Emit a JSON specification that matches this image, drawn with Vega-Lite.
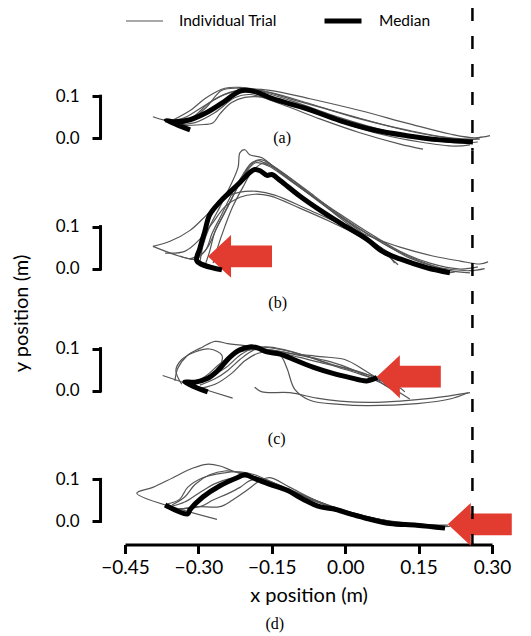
{
  "$schema": "https://vega.github.io/schema/vega-lite/v6.json",
  "padding": {"left": 11, "top": 0, "right": 5, "bottom": 5},
  "spacing": 0,
  "bounds": "flush",
  "config": {
    "view": {"stroke": null},
    "font": "Lato",
    "legend": {"orient": "none", "legendX": 0, "legendY": -8, "direction": "horizontal", "symbolType": "stroke", "symbolSize": 1369, "labelFontSize": 15.5, "labelFont": "Lato", "labelColor": "black", "labelOffset": 15, "columnPadding": 37, "padding": 0}
  },
  "datasets": {
    "traj": [
      {"panel":"a","series":"Individual Trial","trial":"a1","x":-0.393,"y":0.051},{"panel":"a","series":"Individual Trial","trial":"a1","x":-0.328,"y":0.037},{"panel":"a","series":"Individual Trial","trial":"a1","x":-0.287,"y":0.070},{"panel":"a","series":"Individual Trial","trial":"a1","x":-0.252,"y":0.114},{"panel":"a","series":"Individual Trial","trial":"a1","x":-0.219,"y":0.119},{"panel":"a","series":"Individual Trial","trial":"a1","x":-0.174,"y":0.114},{"panel":"a","series":"Individual Trial","trial":"a1","x":-0.093,"y":0.087},{"panel":"a","series":"Individual Trial","trial":"a1","x":0.010,"y":0.054},{"panel":"a","series":"Individual Trial","trial":"a1","x":0.112,"y":0.022},{"panel":"a","series":"Individual Trial","trial":"a1","x":0.194,"y":0.003},{"panel":"a","series":"Individual Trial","trial":"a1","x":0.255,"y":-0.004},{"panel":"a","series":"Individual Trial","trial":"a1","x":0.279,"y":0.003},
      {"panel":"a","series":"Individual Trial","trial":"a2","x":-0.362,"y":0.037},{"panel":"a","series":"Individual Trial","trial":"a2","x":-0.317,"y":0.046},{"panel":"a","series":"Individual Trial","trial":"a2","x":-0.277,"y":0.085},{"panel":"a","series":"Individual Trial","trial":"a2","x":-0.236,"y":0.109},{"panel":"a","series":"Individual Trial","trial":"a2","x":-0.195,"y":0.116},{"panel":"a","series":"Individual Trial","trial":"a2","x":-0.113,"y":0.090},{"panel":"a","series":"Individual Trial","trial":"a2","x":-0.011,"y":0.049},{"panel":"a","series":"Individual Trial","trial":"a2","x":0.091,"y":0.015},{"panel":"a","series":"Individual Trial","trial":"a2","x":0.173,"y":-0.004},{"panel":"a","series":"Individual Trial","trial":"a2","x":0.235,"y":-0.011},{"panel":"a","series":"Individual Trial","trial":"a2","x":0.271,"y":-0.009},
      {"panel":"a","series":"Individual Trial","trial":"a3","x":-0.348,"y":0.032},{"panel":"a","series":"Individual Trial","trial":"a3","x":-0.307,"y":0.037},{"panel":"a","series":"Individual Trial","trial":"a3","x":-0.266,"y":0.061},{"panel":"a","series":"Individual Trial","trial":"a3","x":-0.225,"y":0.097},{"panel":"a","series":"Individual Trial","trial":"a3","x":-0.195,"y":0.104},{"panel":"a","series":"Individual Trial","trial":"a3","x":-0.133,"y":0.082},{"panel":"a","series":"Individual Trial","trial":"a3","x":-0.052,"y":0.046},{"panel":"a","series":"Individual Trial","trial":"a3","x":0.030,"y":0.013},{"panel":"a","series":"Individual Trial","trial":"a3","x":0.112,"y":-0.014},{"panel":"a","series":"Individual Trial","trial":"a3","x":0.159,"y":-0.026},
      {"panel":"a","series":"Individual Trial","trial":"a4","x":-0.338,"y":0.030},{"panel":"a","series":"Individual Trial","trial":"a4","x":-0.297,"y":0.032},{"panel":"a","series":"Individual Trial","trial":"a4","x":-0.270,"y":0.037},{"panel":"a","series":"Individual Trial","trial":"a4","x":-0.256,"y":0.058},{"panel":"a","series":"Individual Trial","trial":"a4","x":-0.232,"y":0.085},{"panel":"a","series":"Individual Trial","trial":"a4","x":-0.205,"y":0.097},{"panel":"a","series":"Individual Trial","trial":"a4","x":-0.164,"y":0.097},{"panel":"a","series":"Individual Trial","trial":"a4","x":-0.093,"y":0.073},{"panel":"a","series":"Individual Trial","trial":"a4","x":-0.011,"y":0.039},{"panel":"a","series":"Individual Trial","trial":"a4","x":0.071,"y":0.010},{"panel":"a","series":"Individual Trial","trial":"a4","x":0.153,"y":-0.009},{"panel":"a","series":"Individual Trial","trial":"a4","x":0.224,"y":-0.019},{"panel":"a","series":"Individual Trial","trial":"a4","x":0.255,"y":-0.016},
      {"panel":"a","series":"Individual Trial","trial":"a5","x":-0.354,"y":0.042},{"panel":"a","series":"Individual Trial","trial":"a5","x":-0.317,"y":0.066},{"panel":"a","series":"Individual Trial","trial":"a5","x":-0.287,"y":0.094},{"panel":"a","series":"Individual Trial","trial":"a5","x":-0.266,"y":0.109},{"panel":"a","series":"Individual Trial","trial":"a5","x":-0.246,"y":0.119},{"panel":"a","series":"Individual Trial","trial":"a5","x":-0.215,"y":0.121},{"panel":"a","series":"Individual Trial","trial":"a5","x":-0.154,"y":0.109},{"panel":"a","series":"Individual Trial","trial":"a5","x":-0.072,"y":0.082},{"panel":"a","series":"Individual Trial","trial":"a5","x":0.030,"y":0.046},{"panel":"a","series":"Individual Trial","trial":"a5","x":0.132,"y":0.018},{"panel":"a","series":"Individual Trial","trial":"a5","x":0.214,"y":0.001},{"panel":"a","series":"Individual Trial","trial":"a5","x":0.275,"y":-0.002},
      {"panel":"a","series":"Individual Trial","trial":"a6","x":-0.368,"y":0.039},{"panel":"a","series":"Individual Trial","trial":"a6","x":-0.328,"y":0.049},{"panel":"a","series":"Individual Trial","trial":"a6","x":-0.287,"y":0.078},{"panel":"a","series":"Individual Trial","trial":"a6","x":-0.246,"y":0.104},{"panel":"a","series":"Individual Trial","trial":"a6","x":-0.205,"y":0.116},{"panel":"a","series":"Individual Trial","trial":"a6","x":-0.154,"y":0.114},{"panel":"a","series":"Individual Trial","trial":"a6","x":-0.072,"y":0.094},{"panel":"a","series":"Individual Trial","trial":"a6","x":0.030,"y":0.066},{"panel":"a","series":"Individual Trial","trial":"a6","x":0.132,"y":0.034},{"panel":"a","series":"Individual Trial","trial":"a6","x":0.214,"y":0.010},{"panel":"a","series":"Individual Trial","trial":"a6","x":0.265,"y":0.001},{"panel":"a","series":"Individual Trial","trial":"a6","x":0.296,"y":0.006},
      {"panel":"a","series":"Median","trial":"am","x":-0.317,"y":0.020},{"panel":"a","series":"Median","trial":"am","x":-0.366,"y":0.042},{"panel":"a","series":"Median","trial":"am","x":-0.348,"y":0.039},{"panel":"a","series":"Median","trial":"am","x":-0.317,"y":0.044},{"panel":"a","series":"Median","trial":"am","x":-0.283,"y":0.061},{"panel":"a","series":"Median","trial":"am","x":-0.250,"y":0.085},{"panel":"a","series":"Median","trial":"am","x":-0.230,"y":0.102},{"panel":"a","series":"Median","trial":"am","x":-0.213,"y":0.113},{"panel":"a","series":"Median","trial":"am","x":-0.185,"y":0.111},{"panel":"a","series":"Median","trial":"am","x":-0.148,"y":0.094},{"panel":"a","series":"Median","trial":"am","x":-0.078,"y":0.070},{"panel":"a","series":"Median","trial":"am","x":-0.011,"y":0.042},{"panel":"a","series":"Median","trial":"am","x":0.057,"y":0.020},{"panel":"a","series":"Median","trial":"am","x":0.126,"y":0.006},{"panel":"a","series":"Median","trial":"am","x":0.194,"y":-0.004},{"panel":"a","series":"Median","trial":"am","x":0.261,"y":-0.009},

      {"panel":"b","series":"Individual Trial","trial":"b1","x":-0.393,"y":0.053},{"panel":"b","series":"Individual Trial","trial":"b1","x":-0.358,"y":0.065},{"panel":"b","series":"Individual Trial","trial":"b1","x":-0.317,"y":0.091},{"panel":"b","series":"Individual Trial","trial":"b1","x":-0.283,"y":0.128},{"panel":"b","series":"Individual Trial","trial":"b1","x":-0.250,"y":0.166},{"panel":"b","series":"Individual Trial","trial":"b1","x":-0.215,"y":0.182},{"panel":"b","series":"Individual Trial","trial":"b1","x":-0.180,"y":0.184},{"panel":"b","series":"Individual Trial","trial":"b1","x":-0.144,"y":0.175},{"panel":"b","series":"Individual Trial","trial":"b1","x":-0.078,"y":0.142},{"panel":"b","series":"Individual Trial","trial":"b1","x":-0.011,"y":0.107},{"panel":"b","series":"Individual Trial","trial":"b1","x":0.050,"y":0.077},{"panel":"b","series":"Individual Trial","trial":"b1","x":0.112,"y":0.051},{"panel":"b","series":"Individual Trial","trial":"b1","x":0.179,"y":0.030},{"panel":"b","series":"Individual Trial","trial":"b1","x":0.235,"y":0.018},{"panel":"b","series":"Individual Trial","trial":"b1","x":0.275,"y":0.011},{"panel":"b","series":"Individual Trial","trial":"b1","x":0.292,"y":0.016},
      {"panel":"b","series":"Individual Trial","trial":"b0","x":-0.393,"y":0.053},{"panel":"b","series":"Individual Trial","trial":"b0","x":-0.340,"y":0.030},{"panel":"b","series":"Individual Trial","trial":"b0","x":-0.300,"y":0.018},{"panel":"b","series":"Individual Trial","trial":"b0","x":-0.262,"y":0.000},
      {"panel":"b","series":"Individual Trial","trial":"b2","x":-0.368,"y":0.037},{"panel":"b","series":"Individual Trial","trial":"b2","x":-0.328,"y":0.041},{"panel":"b","series":"Individual Trial","trial":"b2","x":-0.297,"y":0.070},{"panel":"b","series":"Individual Trial","trial":"b2","x":-0.272,"y":0.107},{"panel":"b","series":"Individual Trial","trial":"b2","x":-0.246,"y":0.147},{"panel":"b","series":"Individual Trial","trial":"b2","x":-0.215,"y":0.170},{"panel":"b","series":"Individual Trial","trial":"b2","x":-0.185,"y":0.177},{"panel":"b","series":"Individual Trial","trial":"b2","x":-0.154,"y":0.173},{"panel":"b","series":"Individual Trial","trial":"b2","x":-0.093,"y":0.144},{"panel":"b","series":"Individual Trial","trial":"b2","x":-0.031,"y":0.112},{"panel":"b","series":"Individual Trial","trial":"b2","x":0.030,"y":0.077},{"panel":"b","series":"Individual Trial","trial":"b2","x":0.081,"y":0.041},{"panel":"b","series":"Individual Trial","trial":"b2","x":0.101,"y":0.013},
      {"panel":"b","series":"Individual Trial","trial":"b3","x":-0.297,"y":0.013},{"panel":"b","series":"Individual Trial","trial":"b3","x":-0.291,"y":0.053},{"panel":"b","series":"Individual Trial","trial":"b3","x":-0.277,"y":0.100},{"panel":"b","series":"Individual Trial","trial":"b3","x":-0.256,"y":0.147},{"panel":"b","series":"Individual Trial","trial":"b3","x":-0.236,"y":0.194},{"panel":"b","series":"Individual Trial","trial":"b3","x":-0.219,"y":0.241},{"panel":"b","series":"Individual Trial","trial":"b3","x":-0.215,"y":0.276},{"panel":"b","series":"Individual Trial","trial":"b3","x":-0.205,"y":0.283},{"panel":"b","series":"Individual Trial","trial":"b3","x":-0.195,"y":0.271},{"panel":"b","series":"Individual Trial","trial":"b3","x":-0.170,"y":0.264},{"panel":"b","series":"Individual Trial","trial":"b3","x":-0.133,"y":0.229},{"panel":"b","series":"Individual Trial","trial":"b3","x":-0.072,"y":0.177},{"panel":"b","series":"Individual Trial","trial":"b3","x":-0.011,"y":0.130},{"panel":"b","series":"Individual Trial","trial":"b3","x":0.050,"y":0.084},{"panel":"b","series":"Individual Trial","trial":"b3","x":0.112,"y":0.041},{"panel":"b","series":"Individual Trial","trial":"b3","x":0.173,"y":0.013},{"panel":"b","series":"Individual Trial","trial":"b3","x":0.235,"y":-0.001},{"panel":"b","series":"Individual Trial","trial":"b3","x":0.271,"y":0.004},
      {"panel":"b","series":"Individual Trial","trial":"b4","x":-0.317,"y":0.023},{"panel":"b","series":"Individual Trial","trial":"b4","x":-0.287,"y":0.041},{"panel":"b","series":"Individual Trial","trial":"b4","x":-0.272,"y":0.084},{"panel":"b","series":"Individual Trial","trial":"b4","x":-0.252,"y":0.130},{"panel":"b","series":"Individual Trial","trial":"b4","x":-0.232,"y":0.177},{"panel":"b","series":"Individual Trial","trial":"b4","x":-0.209,"y":0.224},{"panel":"b","series":"Individual Trial","trial":"b4","x":-0.191,"y":0.252},{"panel":"b","series":"Individual Trial","trial":"b4","x":-0.170,"y":0.259},{"panel":"b","series":"Individual Trial","trial":"b4","x":-0.144,"y":0.241},{"panel":"b","series":"Individual Trial","trial":"b4","x":-0.093,"y":0.194},{"panel":"b","series":"Individual Trial","trial":"b4","x":-0.031,"y":0.140},{"panel":"b","series":"Individual Trial","trial":"b4","x":0.030,"y":0.093},{"panel":"b","series":"Individual Trial","trial":"b4","x":0.091,"y":0.051},{"panel":"b","series":"Individual Trial","trial":"b4","x":0.153,"y":0.018},{"panel":"b","series":"Individual Trial","trial":"b4","x":0.214,"y":-0.005},{"panel":"b","series":"Individual Trial","trial":"b4","x":0.255,"y":-0.010},
      {"panel":"b","series":"Individual Trial","trial":"b5","x":-0.287,"y":0.006},{"panel":"b","series":"Individual Trial","trial":"b5","x":-0.277,"y":0.041},{"panel":"b","series":"Individual Trial","trial":"b5","x":-0.266,"y":0.088},{"panel":"b","series":"Individual Trial","trial":"b5","x":-0.246,"y":0.135},{"panel":"b","series":"Individual Trial","trial":"b5","x":-0.223,"y":0.187},{"panel":"b","series":"Individual Trial","trial":"b5","x":-0.203,"y":0.229},{"panel":"b","series":"Individual Trial","trial":"b5","x":-0.183,"y":0.252},{"panel":"b","series":"Individual Trial","trial":"b5","x":-0.158,"y":0.245},{"panel":"b","series":"Individual Trial","trial":"b5","x":-0.113,"y":0.210},{"panel":"b","series":"Individual Trial","trial":"b5","x":-0.052,"y":0.159},{"panel":"b","series":"Individual Trial","trial":"b5","x":0.010,"y":0.107},{"panel":"b","series":"Individual Trial","trial":"b5","x":0.061,"y":0.060},{"panel":"b","series":"Individual Trial","trial":"b5","x":0.091,"y":0.027},{"panel":"b","series":"Individual Trial","trial":"b5","x":0.108,"y":0.009},
      {"panel":"b","series":"Individual Trial","trial":"b6","x":-0.270,"y":0.013},{"panel":"b","series":"Individual Trial","trial":"b6","x":-0.260,"y":0.053},{"panel":"b","series":"Individual Trial","trial":"b6","x":-0.246,"y":0.100},{"panel":"b","series":"Individual Trial","trial":"b6","x":-0.230,"y":0.147},{"panel":"b","series":"Individual Trial","trial":"b6","x":-0.209,"y":0.194},{"panel":"b","series":"Individual Trial","trial":"b6","x":-0.189,"y":0.233},{"panel":"b","series":"Individual Trial","trial":"b6","x":-0.164,"y":0.252},{"panel":"b","series":"Individual Trial","trial":"b6","x":-0.133,"y":0.233},{"panel":"b","series":"Individual Trial","trial":"b6","x":-0.082,"y":0.187},{"panel":"b","series":"Individual Trial","trial":"b6","x":-0.021,"y":0.130},{"panel":"b","series":"Individual Trial","trial":"b6","x":0.040,"y":0.077},{"panel":"b","series":"Individual Trial","trial":"b6","x":0.101,"y":0.030},{"panel":"b","series":"Individual Trial","trial":"b6","x":0.153,"y":0.004},{"panel":"b","series":"Individual Trial","trial":"b6","x":0.204,"y":-0.010},{"panel":"b","series":"Individual Trial","trial":"b6","x":0.224,"y":-0.008},
      {"panel":"b","series":"Individual Trial","trial":"b7","x":-0.338,"y":0.030},{"panel":"b","series":"Individual Trial","trial":"b7","x":-0.305,"y":0.023},{"panel":"b","series":"Individual Trial","trial":"b7","x":-0.281,"y":0.051},{"panel":"b","series":"Individual Trial","trial":"b7","x":-0.264,"y":0.093},{"panel":"b","series":"Individual Trial","trial":"b7","x":-0.240,"y":0.147},{"panel":"b","series":"Individual Trial","trial":"b7","x":-0.215,"y":0.205},{"panel":"b","series":"Individual Trial","trial":"b7","x":-0.195,"y":0.245},{"panel":"b","series":"Individual Trial","trial":"b7","x":-0.178,"y":0.257},{"panel":"b","series":"Individual Trial","trial":"b7","x":-0.162,"y":0.250},{"panel":"b","series":"Individual Trial","trial":"b7","x":-0.123,"y":0.224},{"panel":"b","series":"Individual Trial","trial":"b7","x":-0.062,"y":0.172},{"panel":"b","series":"Individual Trial","trial":"b7","x":-0.001,"y":0.119},{"panel":"b","series":"Individual Trial","trial":"b7","x":0.071,"y":0.065},{"panel":"b","series":"Individual Trial","trial":"b7","x":0.132,"y":0.025},{"panel":"b","series":"Individual Trial","trial":"b7","x":0.194,"y":0.002},{"panel":"b","series":"Individual Trial","trial":"b7","x":0.255,"y":-0.005},{"panel":"b","series":"Individual Trial","trial":"b7","x":0.285,"y":0.000},
      {"panel":"b","series":"Median","trial":"bm","x":-0.252,"y":-0.003},{"panel":"b","series":"Median","trial":"bm","x":-0.303,"y":0.018},{"panel":"b","series":"Median","trial":"bm","x":-0.297,"y":0.048},{"panel":"b","series":"Median","trial":"bm","x":-0.287,"y":0.088},{"panel":"b","series":"Median","trial":"bm","x":-0.277,"y":0.128},{"panel":"b","series":"Median","trial":"bm","x":-0.256,"y":0.159},{"panel":"b","series":"Median","trial":"bm","x":-0.236,"y":0.182},{"panel":"b","series":"Median","trial":"bm","x":-0.215,"y":0.205},{"panel":"b","series":"Median","trial":"bm","x":-0.195,"y":0.229},{"panel":"b","series":"Median","trial":"bm","x":-0.185,"y":0.236},{"panel":"b","series":"Median","trial":"bm","x":-0.174,"y":0.233},{"panel":"b","series":"Median","trial":"bm","x":-0.160,"y":0.222},{"panel":"b","series":"Median","trial":"bm","x":-0.150,"y":0.224},{"panel":"b","series":"Median","trial":"bm","x":-0.133,"y":0.210},{"panel":"b","series":"Median","trial":"bm","x":-0.093,"y":0.173},{"panel":"b","series":"Median","trial":"bm","x":-0.046,"y":0.135},{"panel":"b","series":"Median","trial":"bm","x":-0.011,"y":0.109},{"panel":"b","series":"Median","trial":"bm","x":0.044,"y":0.070},{"panel":"b","series":"Median","trial":"bm","x":0.076,"y":0.041},{"panel":"b","series":"Median","trial":"bm","x":0.112,"y":0.023},{"panel":"b","series":"Median","trial":"bm","x":0.167,"y":0.002},{"panel":"b","series":"Median","trial":"bm","x":0.214,"y":-0.010},

      {"panel":"c","series":"Individual Trial","trial":"c1","x":-0.348,"y":0.023},{"panel":"c","series":"Individual Trial","trial":"c1","x":-0.342,"y":0.053},{"panel":"c","series":"Individual Trial","trial":"c1","x":-0.322,"y":0.084},{"panel":"c","series":"Individual Trial","trial":"c1","x":-0.291,"y":0.104},{"panel":"c","series":"Individual Trial","trial":"c1","x":-0.266,"y":0.117},{"panel":"c","series":"Individual Trial","trial":"c1","x":-0.240,"y":0.112},{"panel":"c","series":"Individual Trial","trial":"c1","x":-0.205,"y":0.107},{"panel":"c","series":"Individual Trial","trial":"c1","x":-0.164,"y":0.099},{"panel":"c","series":"Individual Trial","trial":"c1","x":-0.113,"y":0.089},{"panel":"c","series":"Individual Trial","trial":"c1","x":-0.052,"y":0.081},{"panel":"c","series":"Individual Trial","trial":"c1","x":-0.001,"y":0.074},{"panel":"c","series":"Individual Trial","trial":"c1","x":0.040,"y":0.048},{"panel":"c","series":"Individual Trial","trial":"c1","x":0.067,"y":0.028},{"panel":"c","series":"Individual Trial","trial":"c1","x":0.101,"y":0.003},{"panel":"c","series":"Individual Trial","trial":"c1","x":0.132,"y":-0.020},
      {"panel":"c","series":"Individual Trial","trial":"c2","x":-0.334,"y":0.015},{"panel":"c","series":"Individual Trial","trial":"c2","x":-0.346,"y":0.048},{"panel":"c","series":"Individual Trial","trial":"c2","x":-0.334,"y":0.074},{"panel":"c","series":"Individual Trial","trial":"c2","x":-0.307,"y":0.092},{"panel":"c","series":"Individual Trial","trial":"c2","x":-0.277,"y":0.099},{"panel":"c","series":"Individual Trial","trial":"c2","x":-0.252,"y":0.084},{"panel":"c","series":"Individual Trial","trial":"c2","x":-0.256,"y":0.058},{"panel":"c","series":"Individual Trial","trial":"c2","x":-0.272,"y":0.038},{"panel":"c","series":"Individual Trial","trial":"c2","x":-0.246,"y":0.053},{"panel":"c","series":"Individual Trial","trial":"c2","x":-0.215,"y":0.084},{"panel":"c","series":"Individual Trial","trial":"c2","x":-0.191,"y":0.099},{"panel":"c","series":"Individual Trial","trial":"c2","x":-0.154,"y":0.097},{"panel":"c","series":"Individual Trial","trial":"c2","x":-0.093,"y":0.084},{"panel":"c","series":"Individual Trial","trial":"c2","x":-0.031,"y":0.069},{"panel":"c","series":"Individual Trial","trial":"c2","x":0.020,"y":0.048},{"panel":"c","series":"Individual Trial","trial":"c2","x":0.061,"y":0.025},{"panel":"c","series":"Individual Trial","trial":"c2","x":0.091,"y":0.008},
      {"panel":"c","series":"Individual Trial","trial":"c3","x":-0.373,"y":0.036},{"panel":"c","series":"Individual Trial","trial":"c3","x":-0.301,"y":0.008},{"panel":"c","series":"Individual Trial","trial":"c3","x":-0.230,"y":-0.018},
      {"panel":"c","series":"Individual Trial","trial":"c4","x":-0.185,"y":0.008},{"panel":"c","series":"Individual Trial","trial":"c4","x":-0.170,"y":-0.003},{"panel":"c","series":"Individual Trial","trial":"c4","x":-0.113,"y":-0.005},{"panel":"c","series":"Individual Trial","trial":"c4","x":-0.058,"y":-0.018},{"panel":"c","series":"Individual Trial","trial":"c4","x":-0.011,"y":-0.025},{"panel":"c","series":"Individual Trial","trial":"c4","x":0.050,"y":-0.028},{"panel":"c","series":"Individual Trial","trial":"c4","x":0.112,"y":-0.025},{"panel":"c","series":"Individual Trial","trial":"c4","x":0.179,"y":-0.018},{"panel":"c","series":"Individual Trial","trial":"c4","x":0.255,"y":-0.005},
      {"panel":"c","series":"Individual Trial","trial":"c5","x":-0.215,"y":0.092},{"panel":"c","series":"Individual Trial","trial":"c5","x":-0.174,"y":0.099},{"panel":"c","series":"Individual Trial","trial":"c5","x":-0.133,"y":0.084},{"panel":"c","series":"Individual Trial","trial":"c5","x":-0.119,"y":0.053},{"panel":"c","series":"Individual Trial","trial":"c5","x":-0.103,"y":0.003},{"panel":"c","series":"Individual Trial","trial":"c5","x":-0.072,"y":-0.023},{"panel":"c","series":"Individual Trial","trial":"c5","x":-0.011,"y":-0.033},{"panel":"c","series":"Individual Trial","trial":"c5","x":0.044,"y":-0.036},{"panel":"c","series":"Individual Trial","trial":"c5","x":0.147,"y":-0.031},{"panel":"c","series":"Individual Trial","trial":"c5","x":0.214,"y":-0.020},{"panel":"c","series":"Individual Trial","trial":"c5","x":0.251,"y":-0.005},
      {"panel":"c","series":"Individual Trial","trial":"c6","x":-0.317,"y":0.018},{"panel":"c","series":"Individual Trial","trial":"c6","x":-0.287,"y":0.033},{"panel":"c","series":"Individual Trial","trial":"c6","x":-0.256,"y":0.064},{"panel":"c","series":"Individual Trial","trial":"c6","x":-0.225,"y":0.089},{"panel":"c","series":"Individual Trial","trial":"c6","x":-0.195,"y":0.104},{"panel":"c","series":"Individual Trial","trial":"c6","x":-0.154,"y":0.102},{"panel":"c","series":"Individual Trial","trial":"c6","x":-0.093,"y":0.087},{"panel":"c","series":"Individual Trial","trial":"c6","x":-0.031,"y":0.064},{"panel":"c","series":"Individual Trial","trial":"c6","x":0.020,"y":0.046},{"panel":"c","series":"Individual Trial","trial":"c6","x":0.061,"y":0.033},{"panel":"c","series":"Individual Trial","trial":"c6","x":0.101,"y":0.015},{"panel":"c","series":"Individual Trial","trial":"c6","x":0.122,"y":-0.003},
      {"panel":"c","series":"Individual Trial","trial":"c7","x":-0.297,"y":0.013},{"panel":"c","series":"Individual Trial","trial":"c7","x":-0.266,"y":0.028},{"panel":"c","series":"Individual Trial","trial":"c7","x":-0.240,"y":0.048},{"panel":"c","series":"Individual Trial","trial":"c7","x":-0.215,"y":0.074},{"panel":"c","series":"Individual Trial","trial":"c7","x":-0.191,"y":0.094},{"panel":"c","series":"Individual Trial","trial":"c7","x":-0.164,"y":0.104},{"panel":"c","series":"Individual Trial","trial":"c7","x":-0.123,"y":0.097},{"panel":"c","series":"Individual Trial","trial":"c7","x":-0.072,"y":0.079},{"panel":"c","series":"Individual Trial","trial":"c7","x":-0.021,"y":0.058},{"panel":"c","series":"Individual Trial","trial":"c7","x":0.026,"y":0.041},{"panel":"c","series":"Individual Trial","trial":"c7","x":0.071,"y":0.023},
      {"panel":"c","series":"Individual Trial","trial":"c8","x":-0.307,"y":0.003},{"panel":"c","series":"Individual Trial","trial":"c8","x":-0.266,"y":0.015},{"panel":"c","series":"Individual Trial","trial":"c8","x":-0.232,"y":0.041},{"panel":"c","series":"Individual Trial","trial":"c8","x":-0.205,"y":0.071},{"panel":"c","series":"Individual Trial","trial":"c8","x":-0.178,"y":0.089},{"panel":"c","series":"Individual Trial","trial":"c8","x":-0.144,"y":0.092},{"panel":"c","series":"Individual Trial","trial":"c8","x":-0.093,"y":0.079},{"panel":"c","series":"Individual Trial","trial":"c8","x":-0.041,"y":0.064},{"panel":"c","series":"Individual Trial","trial":"c8","x":0.010,"y":0.051},{"panel":"c","series":"Individual Trial","trial":"c8","x":0.050,"y":0.036},{"panel":"c","series":"Individual Trial","trial":"c8","x":0.081,"y":0.013},{"panel":"c","series":"Individual Trial","trial":"c8","x":0.112,"y":-0.010},
      {"panel":"c","series":"Median","trial":"cm","x":-0.281,"y":-0.003},{"panel":"c","series":"Median","trial":"cm","x":-0.328,"y":0.020},{"panel":"c","series":"Median","trial":"cm","x":-0.307,"y":0.020},{"panel":"c","series":"Median","trial":"cm","x":-0.283,"y":0.028},{"panel":"c","series":"Median","trial":"cm","x":-0.262,"y":0.046},{"panel":"c","series":"Median","trial":"cm","x":-0.250,"y":0.061},{"panel":"c","series":"Median","trial":"cm","x":-0.236,"y":0.079},{"panel":"c","series":"Median","trial":"cm","x":-0.215,"y":0.097},{"panel":"c","series":"Median","trial":"cm","x":-0.195,"y":0.104},{"panel":"c","series":"Median","trial":"cm","x":-0.180,"y":0.102},{"panel":"c","series":"Median","trial":"cm","x":-0.160,"y":0.092},{"panel":"c","series":"Median","trial":"cm","x":-0.133,"y":0.087},{"panel":"c","series":"Median","trial":"cm","x":-0.099,"y":0.071},{"panel":"c","series":"Median","trial":"cm","x":-0.066,"y":0.056},{"panel":"c","series":"Median","trial":"cm","x":-0.025,"y":0.041},{"panel":"c","series":"Median","trial":"cm","x":0.010,"y":0.031},{"panel":"c","series":"Median","trial":"cm","x":0.044,"y":0.023},{"panel":"c","series":"Median","trial":"cm","x":0.065,"y":0.031},

      {"panel":"d","series":"Individual Trial","trial":"d1","x":-0.262,"y":0.005},{"panel":"d","series":"Individual Trial","trial":"d1","x":-0.426,"y":0.067},{"panel":"d","series":"Individual Trial","trial":"d1","x":-0.393,"y":0.081},{"panel":"d","series":"Individual Trial","trial":"d1","x":-0.352,"y":0.104},{"panel":"d","series":"Individual Trial","trial":"d1","x":-0.311,"y":0.127},{"panel":"d","series":"Individual Trial","trial":"d1","x":-0.283,"y":0.136},{"panel":"d","series":"Individual Trial","trial":"d1","x":-0.256,"y":0.132},{"panel":"d","series":"Individual Trial","trial":"d1","x":-0.230,"y":0.120},{"panel":"d","series":"Individual Trial","trial":"d1","x":-0.195,"y":0.106},{"panel":"d","series":"Individual Trial","trial":"d1","x":-0.154,"y":0.090},{"panel":"d","series":"Individual Trial","trial":"d1","x":-0.093,"y":0.065},{"panel":"d","series":"Individual Trial","trial":"d1","x":-0.011,"y":0.028},{"panel":"d","series":"Individual Trial","trial":"d1","x":0.071,"y":0.002},{"panel":"d","series":"Individual Trial","trial":"d1","x":0.153,"y":-0.007},{"panel":"d","series":"Individual Trial","trial":"d1","x":0.210,"y":-0.009},
      {"panel":"d","series":"Individual Trial","trial":"d2","x":-0.362,"y":0.042},{"panel":"d","series":"Individual Trial","trial":"d2","x":-0.338,"y":0.053},{"panel":"d","series":"Individual Trial","trial":"d2","x":-0.322,"y":0.081},{"panel":"d","series":"Individual Trial","trial":"d2","x":-0.291,"y":0.104},{"panel":"d","series":"Individual Trial","trial":"d2","x":-0.250,"y":0.115},{"panel":"d","series":"Individual Trial","trial":"d2","x":-0.215,"y":0.118},{"panel":"d","series":"Individual Trial","trial":"d2","x":-0.185,"y":0.111},{"panel":"d","series":"Individual Trial","trial":"d2","x":-0.144,"y":0.090},{"panel":"d","series":"Individual Trial","trial":"d2","x":-0.093,"y":0.065},{"panel":"d","series":"Individual Trial","trial":"d2","x":-0.021,"y":0.032},{"panel":"d","series":"Individual Trial","trial":"d2","x":0.050,"y":0.009},{"panel":"d","series":"Individual Trial","trial":"d2","x":0.132,"y":-0.007},{"panel":"d","series":"Individual Trial","trial":"d2","x":0.204,"y":-0.014},
      {"panel":"d","series":"Individual Trial","trial":"d3","x":-0.358,"y":0.035},{"panel":"d","series":"Individual Trial","trial":"d3","x":-0.328,"y":0.046},{"panel":"d","series":"Individual Trial","trial":"d3","x":-0.297,"y":0.069},{"panel":"d","series":"Individual Trial","trial":"d3","x":-0.266,"y":0.090},{"panel":"d","series":"Individual Trial","trial":"d3","x":-0.236,"y":0.102},{"panel":"d","series":"Individual Trial","trial":"d3","x":-0.205,"y":0.106},{"panel":"d","series":"Individual Trial","trial":"d3","x":-0.174,"y":0.102},{"panel":"d","series":"Individual Trial","trial":"d3","x":-0.133,"y":0.083},{"panel":"d","series":"Individual Trial","trial":"d3","x":-0.072,"y":0.053},{"panel":"d","series":"Individual Trial","trial":"d3","x":-0.001,"y":0.025},{"panel":"d","series":"Individual Trial","trial":"d3","x":0.081,"y":0.002},{"panel":"d","series":"Individual Trial","trial":"d3","x":0.173,"y":-0.012},{"panel":"d","series":"Individual Trial","trial":"d3","x":0.214,"y":-0.012},
      {"panel":"d","series":"Individual Trial","trial":"d4","x":-0.348,"y":0.030},{"panel":"d","series":"Individual Trial","trial":"d4","x":-0.297,"y":0.035},{"panel":"d","series":"Individual Trial","trial":"d4","x":-0.270,"y":0.051},{"panel":"d","series":"Individual Trial","trial":"d4","x":-0.242,"y":0.065},{"panel":"d","series":"Individual Trial","trial":"d4","x":-0.215,"y":0.081},{"panel":"d","series":"Individual Trial","trial":"d4","x":-0.195,"y":0.097},{"panel":"d","series":"Individual Trial","trial":"d4","x":-0.170,"y":0.102},{"panel":"d","series":"Individual Trial","trial":"d4","x":-0.123,"y":0.079},{"panel":"d","series":"Individual Trial","trial":"d4","x":-0.062,"y":0.048},{"panel":"d","series":"Individual Trial","trial":"d4","x":0.010,"y":0.021},{"panel":"d","series":"Individual Trial","trial":"d4","x":0.101,"y":-0.002},{"panel":"d","series":"Individual Trial","trial":"d4","x":0.194,"y":-0.014},
      {"panel":"d","series":"Individual Trial","trial":"d5","x":-0.338,"y":0.028},{"panel":"d","series":"Individual Trial","trial":"d5","x":-0.303,"y":0.035},{"panel":"d","series":"Individual Trial","trial":"d5","x":-0.256,"y":0.035},{"panel":"d","series":"Individual Trial","trial":"d5","x":-0.230,"y":0.051},{"panel":"d","series":"Individual Trial","trial":"d5","x":-0.201,"y":0.074},{"panel":"d","series":"Individual Trial","trial":"d5","x":-0.174,"y":0.097},{"panel":"d","series":"Individual Trial","trial":"d5","x":-0.154,"y":0.104},{"panel":"d","series":"Individual Trial","trial":"d5","x":-0.113,"y":0.081},{"panel":"d","series":"Individual Trial","trial":"d5","x":-0.052,"y":0.046},{"panel":"d","series":"Individual Trial","trial":"d5","x":0.030,"y":0.014},{"panel":"d","series":"Individual Trial","trial":"d5","x":0.112,"y":-0.005},{"panel":"d","series":"Individual Trial","trial":"d5","x":0.208,"y":-0.012},
      {"panel":"d","series":"Individual Trial","trial":"d6","x":-0.354,"y":0.039},{"panel":"d","series":"Individual Trial","trial":"d6","x":-0.328,"y":0.058},{"panel":"d","series":"Individual Trial","trial":"d6","x":-0.307,"y":0.088},{"panel":"d","series":"Individual Trial","trial":"d6","x":-0.277,"y":0.111},{"panel":"d","series":"Individual Trial","trial":"d6","x":-0.246,"y":0.120},{"panel":"d","series":"Individual Trial","trial":"d6","x":-0.211,"y":0.115},{"panel":"d","series":"Individual Trial","trial":"d6","x":-0.178,"y":0.104},{"panel":"d","series":"Individual Trial","trial":"d6","x":-0.133,"y":0.086},{"panel":"d","series":"Individual Trial","trial":"d6","x":-0.082,"y":0.060},{"panel":"d","series":"Individual Trial","trial":"d6","x":-0.011,"y":0.030},{"panel":"d","series":"Individual Trial","trial":"d6","x":0.071,"y":0.005},{"panel":"d","series":"Individual Trial","trial":"d6","x":0.163,"y":-0.009},{"panel":"d","series":"Individual Trial","trial":"d6","x":0.194,"y":-0.012},
      {"panel":"d","series":"Median","trial":"dm","x":-0.368,"y":0.039},{"panel":"d","series":"Median","trial":"dm","x":-0.322,"y":0.018},{"panel":"d","series":"Median","trial":"dm","x":-0.317,"y":0.028},{"panel":"d","series":"Median","trial":"dm","x":-0.291,"y":0.058},{"panel":"d","series":"Median","trial":"dm","x":-0.256,"y":0.085},{"panel":"d","series":"Median","trial":"dm","x":-0.221,"y":0.104},{"panel":"d","series":"Median","trial":"dm","x":-0.205,"y":0.111},{"panel":"d","series":"Median","trial":"dm","x":-0.189,"y":0.104},{"panel":"d","series":"Median","trial":"dm","x":-0.154,"y":0.088},{"panel":"d","series":"Median","trial":"dm","x":-0.119,"y":0.074},{"panel":"d","series":"Median","trial":"dm","x":-0.086,"y":0.053},{"panel":"d","series":"Median","trial":"dm","x":-0.052,"y":0.035},{"panel":"d","series":"Median","trial":"dm","x":-0.025,"y":0.030},{"panel":"d","series":"Median","trial":"dm","x":0.010,"y":0.018},{"panel":"d","series":"Median","trial":"dm","x":0.044,"y":0.007},{"panel":"d","series":"Median","trial":"dm","x":0.091,"y":-0.005},{"panel":"d","series":"Median","trial":"dm","x":0.146,"y":-0.009},{"panel":"d","series":"Median","trial":"dm","x":0.204,"y":-0.016}
    ],
    "arrows": [
      {"panel":"b","x":-0.215,"y":0.029},
      {"panel":"c","x":0.130,"y":0.033},
      {"panel":"d","x":0.275,"y":-0.007}
    ],
    "labels": [
      {"panel":"a","label":"(a)","x":-0.129,"y":0.0},
      {"panel":"b","label":"(b)","x":-0.138,"y":-0.083},
      {"panel":"c","label":"(c)","x":-0.140,"y":-0.115},
      {"panel":"d","label":"(d)","x":-0.144,"y":-0.245}
    ],
    "one": [{}]
  },
  "vconcat": [
    {
      "width": 367, "height": 142.8,
      "layer": [
        {"data":{"name":"traj"},"transform":[{"filter":"datum.panel === 'a' && datum.series === 'Individual Trial'"}],
         "mark":{"type":"line","interpolate":"catmull-rom"},
         "encoding":{
           "x":{"field":"x","type":"quantitative","scale":{"domain":[-0.45,0.3]},"axis":null},
           "y":{"field":"y","type":"quantitative","scale":{"domain":[-0.03,0.31]},"axis":{"values":[0,0.1],"format":".1f","domain":false,"tickSize":9,"tickWidth":3,"tickColor":"black","offset":24,"labelPadding":13,"labelFontSize":17,"labelFont":"Lato","labelColor":"black","grid":false,"title":null}},
           "color":{"field":"series","type":"ordinal","title":null,"scale":{"domain":["Individual Trial","Median"],"range":["#555555","#000000"]}},
           "strokeWidth":{"field":"series","type":"ordinal","title":null,"scale":{"domain":["Individual Trial","Median"],"range":[1.2,5]}},
           "detail":{"field":"trial"},
           "order":{"value":null}}},
        {"data":{"name":"traj"},"transform":[{"filter":"datum.panel === 'a' && datum.series === 'Median'"}],
         "mark":{"type":"line","interpolate":"catmull-rom"},
         "encoding":{
           "x":{"field":"x","type":"quantitative","scale":{"domain":[-0.45,0.3]},"axis":null},
           "y":{"field":"y","type":"quantitative","scale":{"domain":[-0.03,0.31]},"axis":{"values":[0,0.1],"format":".1f","domain":false,"tickSize":9,"tickWidth":3,"tickColor":"black","offset":24,"labelPadding":13,"labelFontSize":17,"labelFont":"Lato","labelColor":"black","grid":false,"title":null}},
           "color":{"field":"series","type":"ordinal","title":null,"scale":{"domain":["Individual Trial","Median"],"range":["#555555","#000000"]}},
           "strokeWidth":{"field":"series","type":"ordinal","title":null,"scale":{"domain":["Individual Trial","Median"],"range":[1.2,5]}},
           "detail":{"field":"trial"},
           "order":{"value":null}}},
        {"data":{"name":"one"},"mark":{"type":"rule","strokeDash":[13,15],"strokeWidth":2.5,"color":"black"},
         "encoding":{"x":{"datum":0.26,"scale":{"domain":[-0.45,0.3]},"axis":null}}},
        {"data":{"name":"one"},"mark":{"type":"rule","strokeWidth":3,"color":"black","strokeCap":"square"},
         "encoding":{"x":{"datum":-0.5,"scale":{"domain":[-0.45,0.3]},"axis":null},"y":{"datum":0,"scale":{"domain":[-0.03,0.31]},"axis":{"values":[0,0.1],"format":".1f","domain":false,"tickSize":9,"tickWidth":3,"tickColor":"black","offset":24,"labelPadding":13,"labelFontSize":17,"labelFont":"Lato","labelColor":"black","grid":false,"title":null}},"y2":{"datum":0.1}}},
        {"data":{"name":"labels"},"transform":[{"filter":"datum.panel === 'a'"}],
         "mark":{"type":"text","font":"Liberation Serif","fontSize":16,"color":"black"},
         "encoding":{"x":{"field":"x","type":"quantitative","scale":{"domain":[-0.45,0.3]},"axis":null},"y":{"field":"y","type":"quantitative","scale":{"domain":[-0.03,0.31]},"axis":{"values":[0,0.1],"format":".1f","domain":false,"tickSize":9,"tickWidth":3,"tickColor":"black","offset":24,"labelPadding":13,"labelFontSize":17,"labelFont":"Lato","labelColor":"black","grid":false,"title":null}},"text":{"field":"label"}}}
      ]
    },
    {
      "width": 367, "height": 163.8,
      "layer": [
        {"data":{"name":"traj"},"transform":[{"filter":"datum.panel === 'b' && datum.series === 'Individual Trial'"}],
         "mark":{"type":"line","interpolate":"catmull-rom"},
         "encoding":{
           "x":{"field":"x","type":"quantitative","scale":{"domain":[-0.45,0.3]},"axis":null},
           "y":{"field":"y","type":"quantitative","scale":{"domain":[-0.11,0.28]},"axis":{"values":[0,0.1],"format":".1f","domain":false,"tickSize":9,"tickWidth":3,"tickColor":"black","offset":24,"labelPadding":13,"labelFontSize":17,"labelFont":"Lato","labelColor":"black","grid":false,"title":"y position (m)","titleX":-80,"titleY":162,"titleFontSize":20,"titleFont":"Lato","titleFontWeight":"normal","titleColor":"black","titleBaseline":"middle"}},
           "color":{"field":"series","type":"ordinal","title":null,"scale":{"domain":["Individual Trial","Median"],"range":["#555555","#000000"]}},
           "strokeWidth":{"field":"series","type":"ordinal","title":null,"scale":{"domain":["Individual Trial","Median"],"range":[1.2,5]}},
           "detail":{"field":"trial"},
           "order":{"value":null}}},
        {"data":{"name":"arrows"},"transform":[{"filter":"datum.panel === 'b'"}],
         "mark":{"type":"point","shape":"M -1 0 L -0.28 -0.67 L -0.28 -0.34 L 1 -0.34 L 1 0.34 L -0.28 0.34 L -0.28 0.67 Z","filled":true,"color":"#e23b2f","opacity":1,"size":4096,"strokeWidth":0},
         "encoding":{"x":{"field":"x","type":"quantitative","scale":{"domain":[-0.45,0.3]},"axis":null},"y":{"field":"y","type":"quantitative","scale":{"domain":[-0.11,0.28]},"axis":{"values":[0,0.1],"format":".1f","domain":false,"tickSize":9,"tickWidth":3,"tickColor":"black","offset":24,"labelPadding":13,"labelFontSize":17,"labelFont":"Lato","labelColor":"black","grid":false,"title":"y position (m)","titleX":-80,"titleY":162,"titleFontSize":20,"titleFont":"Lato","titleFontWeight":"normal","titleColor":"black","titleBaseline":"middle"}}}},
        {"data":{"name":"traj"},"transform":[{"filter":"datum.panel === 'b' && datum.series === 'Median'"}],
         "mark":{"type":"line","interpolate":"catmull-rom"},
         "encoding":{
           "x":{"field":"x","type":"quantitative","scale":{"domain":[-0.45,0.3]},"axis":null},
           "y":{"field":"y","type":"quantitative","scale":{"domain":[-0.11,0.28]},"axis":{"values":[0,0.1],"format":".1f","domain":false,"tickSize":9,"tickWidth":3,"tickColor":"black","offset":24,"labelPadding":13,"labelFontSize":17,"labelFont":"Lato","labelColor":"black","grid":false,"title":"y position (m)","titleX":-80,"titleY":162,"titleFontSize":20,"titleFont":"Lato","titleFontWeight":"normal","titleColor":"black","titleBaseline":"middle"}},
           "color":{"field":"series","type":"ordinal","title":null,"scale":{"domain":["Individual Trial","Median"],"range":["#555555","#000000"]}},
           "strokeWidth":{"field":"series","type":"ordinal","title":null,"scale":{"domain":["Individual Trial","Median"],"range":[1.2,5]}},
           "detail":{"field":"trial"},
           "order":{"value":null}}},
        {"data":{"name":"one"},"mark":{"type":"rule","strokeDash":[13,15],"strokeWidth":2.5,"color":"black"},
         "encoding":{"x":{"datum":0.26,"scale":{"domain":[-0.45,0.3]},"axis":null}}},
        {"data":{"name":"one"},"mark":{"type":"rule","strokeWidth":3,"color":"black","strokeCap":"square"},
         "encoding":{"x":{"datum":-0.5,"scale":{"domain":[-0.45,0.3]},"axis":null},"y":{"datum":0,"scale":{"domain":[-0.11,0.28]},"axis":{"values":[0,0.1],"format":".1f","domain":false,"tickSize":9,"tickWidth":3,"tickColor":"black","offset":24,"labelPadding":13,"labelFontSize":17,"labelFont":"Lato","labelColor":"black","grid":false,"title":"y position (m)","titleX":-80,"titleY":162,"titleFontSize":20,"titleFont":"Lato","titleFontWeight":"normal","titleColor":"black","titleBaseline":"middle"}},"y2":{"datum":0.1}}},
        {"data":{"name":"labels"},"transform":[{"filter":"datum.panel === 'b'"}],
         "mark":{"type":"text","font":"Liberation Serif","fontSize":16,"color":"black"},
         "encoding":{"x":{"field":"x","type":"quantitative","scale":{"domain":[-0.45,0.3]},"axis":null},"y":{"field":"y","type":"quantitative","scale":{"domain":[-0.11,0.28]},"axis":{"values":[0,0.1],"format":".1f","domain":false,"tickSize":9,"tickWidth":3,"tickColor":"black","offset":24,"labelPadding":13,"labelFontSize":17,"labelFont":"Lato","labelColor":"black","grid":false,"title":"y position (m)","titleX":-80,"titleY":162,"titleFontSize":20,"titleFont":"Lato","titleFontWeight":"normal","titleColor":"black","titleBaseline":"middle"}},"text":{"field":"label"}}}
      ]
    },
    {
      "width": 367, "height": 134.4,
      "layer": [
        {"data":{"name":"traj"},"transform":[{"filter":"datum.panel === 'c' && datum.series === 'Individual Trial'"}],
         "mark":{"type":"line","interpolate":"catmull-rom"},
         "encoding":{
           "x":{"field":"x","type":"quantitative","scale":{"domain":[-0.45,0.3]},"axis":null},
           "y":{"field":"y","type":"quantitative","scale":{"domain":[-0.14,0.18]},"axis":{"values":[0,0.1],"format":".1f","domain":false,"tickSize":9,"tickWidth":3,"tickColor":"black","offset":24,"labelPadding":13,"labelFontSize":17,"labelFont":"Lato","labelColor":"black","grid":false,"title":null}},
           "color":{"field":"series","type":"ordinal","title":null,"scale":{"domain":["Individual Trial","Median"],"range":["#555555","#000000"]}},
           "strokeWidth":{"field":"series","type":"ordinal","title":null,"scale":{"domain":["Individual Trial","Median"],"range":[1.2,5]}},
           "detail":{"field":"trial"},
           "order":{"value":null}}},
        {"data":{"name":"arrows"},"transform":[{"filter":"datum.panel === 'c'"}],
         "mark":{"type":"point","shape":"M -1 0 L -0.28 -0.67 L -0.28 -0.34 L 1 -0.34 L 1 0.34 L -0.28 0.34 L -0.28 0.67 Z","filled":true,"color":"#e23b2f","opacity":1,"size":4096,"strokeWidth":0},
         "encoding":{"x":{"field":"x","type":"quantitative","scale":{"domain":[-0.45,0.3]},"axis":null},"y":{"field":"y","type":"quantitative","scale":{"domain":[-0.14,0.18]},"axis":{"values":[0,0.1],"format":".1f","domain":false,"tickSize":9,"tickWidth":3,"tickColor":"black","offset":24,"labelPadding":13,"labelFontSize":17,"labelFont":"Lato","labelColor":"black","grid":false,"title":null}}}},
        {"data":{"name":"traj"},"transform":[{"filter":"datum.panel === 'c' && datum.series === 'Median'"}],
         "mark":{"type":"line","interpolate":"catmull-rom"},
         "encoding":{
           "x":{"field":"x","type":"quantitative","scale":{"domain":[-0.45,0.3]},"axis":null},
           "y":{"field":"y","type":"quantitative","scale":{"domain":[-0.14,0.18]},"axis":{"values":[0,0.1],"format":".1f","domain":false,"tickSize":9,"tickWidth":3,"tickColor":"black","offset":24,"labelPadding":13,"labelFontSize":17,"labelFont":"Lato","labelColor":"black","grid":false,"title":null}},
           "color":{"field":"series","type":"ordinal","title":null,"scale":{"domain":["Individual Trial","Median"],"range":["#555555","#000000"]}},
           "strokeWidth":{"field":"series","type":"ordinal","title":null,"scale":{"domain":["Individual Trial","Median"],"range":[1.2,5]}},
           "detail":{"field":"trial"},
           "order":{"value":null}}},
        {"data":{"name":"one"},"mark":{"type":"rule","strokeDash":[13,15],"strokeWidth":2.5,"color":"black"},
         "encoding":{"x":{"datum":0.26,"scale":{"domain":[-0.45,0.3]},"axis":null}}},
        {"data":{"name":"one"},"mark":{"type":"rule","strokeWidth":3,"color":"black","strokeCap":"square"},
         "encoding":{"x":{"datum":-0.5,"scale":{"domain":[-0.45,0.3]},"axis":null},"y":{"datum":0,"scale":{"domain":[-0.14,0.18]},"axis":{"values":[0,0.1],"format":".1f","domain":false,"tickSize":9,"tickWidth":3,"tickColor":"black","offset":24,"labelPadding":13,"labelFontSize":17,"labelFont":"Lato","labelColor":"black","grid":false,"title":null}},"y2":{"datum":0.1}}},
        {"data":{"name":"labels"},"transform":[{"filter":"datum.panel === 'c'"}],
         "mark":{"type":"text","font":"Liberation Serif","fontSize":16,"color":"black"},
         "encoding":{"x":{"field":"x","type":"quantitative","scale":{"domain":[-0.45,0.3]},"axis":null},"y":{"field":"y","type":"quantitative","scale":{"domain":[-0.14,0.18]},"axis":{"values":[0,0.1],"format":".1f","domain":false,"tickSize":9,"tickWidth":3,"tickColor":"black","offset":24,"labelPadding":13,"labelFontSize":17,"labelFont":"Lato","labelColor":"black","grid":false,"title":null}},"text":{"field":"label"}}}
      ]
    },
    {
      "width": 367, "height": 94.5,
      "layer": [
        {"data":{"name":"traj"},"transform":[{"filter":"datum.panel === 'd' && datum.series === 'Individual Trial'"}],
         "mark":{"type":"line","interpolate":"catmull-rom"},
         "encoding":{
           "x":{"field":"x","type":"quantitative","scale":{"domain":[-0.45,0.3]},"axis":{"values":[-0.45,-0.3,-0.15,0,0.15,0.3],"format":".2f","domainWidth":3,"domainColor":"black","tickSize":9,"tickWidth":3,"tickColor":"black","labelFontSize":19,"labelPadding":5,"labelFont":"Lato","labelColor":"black","labelFlush":false,"title":"x position (m)","titleFontSize":20,"titleFont":"Lato","titleFontWeight":"normal","titleColor":"black","titlePadding":8,"grid":false}},
           "y":{"field":"y","type":"quantitative","scale":{"domain":[-0.055,0.17]},"axis":{"values":[0,0.1],"format":".1f","domain":false,"tickSize":9,"tickWidth":3,"tickColor":"black","offset":24,"labelPadding":13,"labelFontSize":17,"labelFont":"Lato","labelColor":"black","grid":false,"title":null}},
           "color":{"field":"series","type":"ordinal","title":null,"scale":{"domain":["Individual Trial","Median"],"range":["#555555","#000000"]}},
           "strokeWidth":{"field":"series","type":"ordinal","title":null,"scale":{"domain":["Individual Trial","Median"],"range":[1.2,5]}},
           "detail":{"field":"trial"},
           "order":{"value":null}}},
        {"data":{"name":"arrows"},"transform":[{"filter":"datum.panel === 'd'"}],
         "mark":{"type":"point","shape":"M -1 0 L -0.28 -0.67 L -0.28 -0.34 L 1 -0.34 L 1 0.34 L -0.28 0.34 L -0.28 0.67 Z","filled":true,"color":"#e23b2f","opacity":1,"size":4096,"strokeWidth":0},
         "encoding":{"x":{"field":"x","type":"quantitative","scale":{"domain":[-0.45,0.3]},"axis":{"values":[-0.45,-0.3,-0.15,0,0.15,0.3],"format":".2f","domainWidth":3,"domainColor":"black","tickSize":9,"tickWidth":3,"tickColor":"black","labelFontSize":19,"labelPadding":5,"labelFont":"Lato","labelColor":"black","labelFlush":false,"title":"x position (m)","titleFontSize":20,"titleFont":"Lato","titleFontWeight":"normal","titleColor":"black","titlePadding":8,"grid":false}},"y":{"field":"y","type":"quantitative","scale":{"domain":[-0.055,0.17]},"axis":{"values":[0,0.1],"format":".1f","domain":false,"tickSize":9,"tickWidth":3,"tickColor":"black","offset":24,"labelPadding":13,"labelFontSize":17,"labelFont":"Lato","labelColor":"black","grid":false,"title":null}}}},
        {"data":{"name":"traj"},"transform":[{"filter":"datum.panel === 'd' && datum.series === 'Median'"}],
         "mark":{"type":"line","interpolate":"catmull-rom"},
         "encoding":{
           "x":{"field":"x","type":"quantitative","scale":{"domain":[-0.45,0.3]},"axis":{"values":[-0.45,-0.3,-0.15,0,0.15,0.3],"format":".2f","domainWidth":3,"domainColor":"black","tickSize":9,"tickWidth":3,"tickColor":"black","labelFontSize":19,"labelPadding":5,"labelFont":"Lato","labelColor":"black","labelFlush":false,"title":"x position (m)","titleFontSize":20,"titleFont":"Lato","titleFontWeight":"normal","titleColor":"black","titlePadding":8,"grid":false}},
           "y":{"field":"y","type":"quantitative","scale":{"domain":[-0.055,0.17]},"axis":{"values":[0,0.1],"format":".1f","domain":false,"tickSize":9,"tickWidth":3,"tickColor":"black","offset":24,"labelPadding":13,"labelFontSize":17,"labelFont":"Lato","labelColor":"black","grid":false,"title":null}},
           "color":{"field":"series","type":"ordinal","title":null,"scale":{"domain":["Individual Trial","Median"],"range":["#555555","#000000"]}},
           "strokeWidth":{"field":"series","type":"ordinal","title":null,"scale":{"domain":["Individual Trial","Median"],"range":[1.2,5]}},
           "detail":{"field":"trial"},
           "order":{"value":null}}},
        {"data":{"name":"one"},"mark":{"type":"rule","strokeDash":[13,15],"strokeWidth":2.5,"color":"black"},
         "encoding":{"x":{"datum":0.26,"scale":{"domain":[-0.45,0.3]},"axis":{"values":[-0.45,-0.3,-0.15,0,0.15,0.3],"format":".2f","domainWidth":3,"domainColor":"black","tickSize":9,"tickWidth":3,"tickColor":"black","labelFontSize":19,"labelPadding":5,"labelFont":"Lato","labelColor":"black","labelFlush":false,"title":"x position (m)","titleFontSize":20,"titleFont":"Lato","titleFontWeight":"normal","titleColor":"black","titlePadding":8,"grid":false}}}},
        {"data":{"name":"one"},"mark":{"type":"rule","strokeWidth":3,"color":"black","strokeCap":"square"},
         "encoding":{"x":{"datum":-0.5,"scale":{"domain":[-0.45,0.3]},"axis":{"values":[-0.45,-0.3,-0.15,0,0.15,0.3],"format":".2f","domainWidth":3,"domainColor":"black","tickSize":9,"tickWidth":3,"tickColor":"black","labelFontSize":19,"labelPadding":5,"labelFont":"Lato","labelColor":"black","labelFlush":false,"title":"x position (m)","titleFontSize":20,"titleFont":"Lato","titleFontWeight":"normal","titleColor":"black","titlePadding":8,"grid":false}},"y":{"datum":0,"scale":{"domain":[-0.055,0.17]},"axis":{"values":[0,0.1],"format":".1f","domain":false,"tickSize":9,"tickWidth":3,"tickColor":"black","offset":24,"labelPadding":13,"labelFontSize":17,"labelFont":"Lato","labelColor":"black","grid":false,"title":null}},"y2":{"datum":0.1}}},
        {"data":{"name":"labels"},"transform":[{"filter":"datum.panel === 'd'"}],
         "mark":{"type":"text","font":"Liberation Serif","fontSize":16,"color":"black"},
         "encoding":{"x":{"field":"x","type":"quantitative","scale":{"domain":[-0.45,0.3]},"axis":{"values":[-0.45,-0.3,-0.15,0,0.15,0.3],"format":".2f","domainWidth":3,"domainColor":"black","tickSize":9,"tickWidth":3,"tickColor":"black","labelFontSize":19,"labelPadding":5,"labelFont":"Lato","labelColor":"black","labelFlush":false,"title":"x position (m)","titleFontSize":20,"titleFont":"Lato","titleFontWeight":"normal","titleColor":"black","titlePadding":8,"grid":false}},"y":{"field":"y","type":"quantitative","scale":{"domain":[-0.055,0.17]},"axis":{"values":[0,0.1],"format":".1f","domain":false,"tickSize":9,"tickWidth":3,"tickColor":"black","offset":24,"labelPadding":13,"labelFontSize":17,"labelFont":"Lato","labelColor":"black","grid":false,"title":null}},"text":{"field":"label"}}}
      ]
    }
  ]
}
